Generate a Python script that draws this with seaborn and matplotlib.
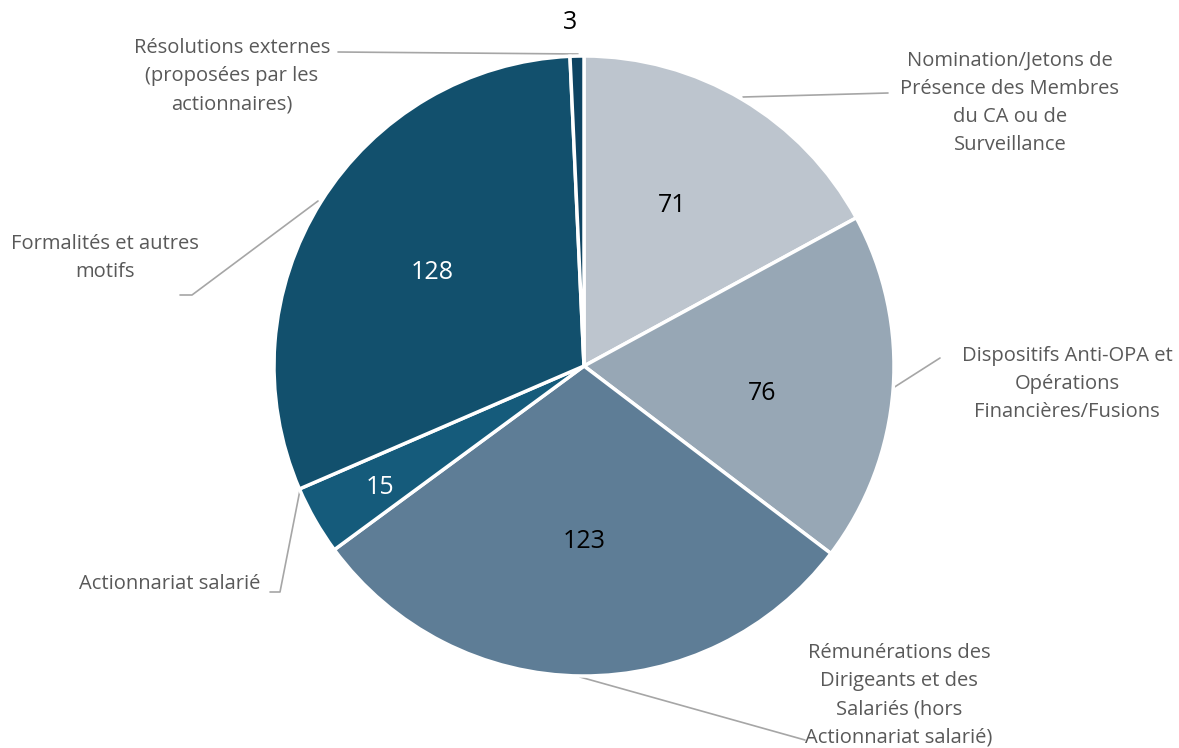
import matplotlib
matplotlib.use("Agg")
import matplotlib.pyplot as plt
import seaborn as sns
import numpy as np

categories = [
    "Nomination/Jetons de\nPrésence des Membres\ndu CA ou de\nSurveillance",
    "Dispositifs Anti-OPA et\nOpérations\nFinancières/Fusions",
    "Rémunérations des\nDirigeants et des\nSalariés (hors\nActionnariat salarié)",
    "Actionnariat salarié",
    "Formalités et autres\nmotifs",
    "Résolutions externes\n(proposées par les\nactionnaires)",
]
values = [71, 76, 123, 15, 128, 3]
colors = ["#BDC5CE", "#97A7B5", "#5E7D96", "#155B7B", "#12506D", "#0E4462"]
value_colors = ["black", "black", "black", "white", "white", "black"]

sns.set_theme(style="white")
plt.rcParams['font.family'] = ['Open Sans', 'DejaVu Sans']

W, H = 1179, 748
fig = plt.figure(figsize=(W / 100, H / 100), dpi=100)
ax = fig.add_axes([0, 0, 1, 1])

cx, cy, R = 584, H - 366, 310

wedges, _ = ax.pie(values, colors=colors, startangle=90, counterclock=False,
                   center=(cx, cy), radius=R, frame=True,
                   wedgeprops=dict(edgecolor="white", linewidth=2.5))
ax.set_xlim(0, W)
ax.set_ylim(0, H)
ax.set_aspect("equal")
ax.axis("off")

# value label positions (pixel coords, y from top)
val_pos = [(672, 205), (762, 393), (584, 541), (380, 487), (432, 272), (570, 22)]
for v, (px, py), c in zip(values, val_pos, value_colors):
    ax.text(px, H - py, str(v), ha="center", va="center", fontsize=18, color=c)

# category labels with leader lines
label_pos = [(1010, 103), (1067, 384), (899, 695), (170, 584), (105, 258), (232, 76)]
lines = [
    [(743, 97), (888, 93)],
    [(893, 388), (940, 358)],
    [(580, 677), (805, 740)],
    [(300, 490), (280, 592), (270, 592)],
    [(318, 201), (192, 295), (180, 295)],
    [(578, 54), (338, 52)],
]
for lab, (px, py), pts in zip(categories, label_pos, lines):
    ax.text(px, H - py, lab, ha="center", va="center", fontsize=14.5,
            color="#595959", linespacing=1.55)
    xs = [p[0] for p in pts]
    ys = [H - p[1] for p in pts]
    ax.plot(xs, ys, color="#A6A6A6", linewidth=1.2, zorder=0.5)

fig.savefig("out.png", dpi=100, facecolor="white")
